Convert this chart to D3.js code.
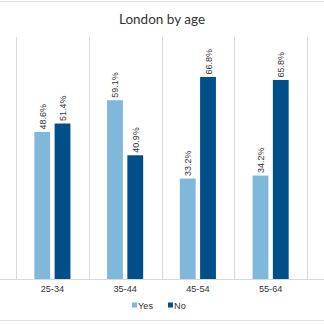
<!DOCTYPE html>
<html><head><meta charset="utf-8">
<script src="https://cdn.jsdelivr.net/npm/d3@7"></script>
<style>body{margin:0;background:#fff}svg{display:block}</style>
</head><body>
<svg id="c" width="324" height="324"></svg>
<script>
const title = "London by age";
const categories = ["25-34", "35-44", "45-54", "55-64"];
const seriesNames = ["Yes", "No"];
const yesValues = [48.6, 59.1, 33.2, 34.2];
const noValues = [51.4, 40.9, 66.8, 65.8];
const colors = ["#7fb8da", "#004e8a"];

const svg = d3.select("#c");
const W = 324, H = 324;
const plot = {left: 16, right: 307, top: 37, bottom: 279};
const FONT = "'Liberation Sans', Arial, sans-serif";

svg.append("line").attr("x1",0).attr("x2",W).attr("y1",1.5).attr("y2",1.5).attr("stroke","#e3e3e3");
svg.append("line").attr("x1",0).attr("x2",W).attr("y1",320.5).attr("y2",320.5).attr("stroke","#e3e3e3");

svg.append("text").attr("x",162).attr("y",24).attr("text-anchor","middle")
  .attr("font-family","Lato, 'Open Sans', sans-serif").attr("font-size",13.5).attr("fill","#333").text(title);

const x0 = d3.scaleBand().domain(categories).range([plot.left, plot.right]).padding(0);
const bw = x0.bandwidth();
const x1 = d3.scaleBand().domain(seriesNames).range([bw*0.252, bw*0.748]).paddingInner(0.22);
const y = d3.scaleLinear().domain([0, 80]).range([plot.bottom, plot.top]);

const seps = categories.map(c => x0(c)).concat([plot.right]);
svg.selectAll("line.sep").data(seps).enter().append("line")
  .attr("x1", d => Math.round(d)+0.5).attr("x2", d => Math.round(d)+0.5)
  .attr("y1", plot.top).attr("y2", plot.bottom).attr("stroke","#d9d9d9");

const data = categories.map((c,i) => ({cat:c, vals:[{s:"Yes", v:yesValues[i]},{s:"No", v:noValues[i]}]}));
const g = svg.selectAll("g.grp").data(data).enter().append("g").attr("transform", d => `translate(${x0(d.cat)},0)`);
g.selectAll("rect").data(d => d.vals).enter().append("rect")
  .attr("x", d => x1(d.s)).attr("width", x1.bandwidth())
  .attr("y", d => y(d.v)).attr("height", d => y(0) - y(d.v))
  .attr("fill", (d,i) => colors[i]);
g.selectAll("text").data(d => d.vals).enter().append("text")
  .attr("transform", d => `translate(${x1(d.s) + x1.bandwidth()/2 + 3.5},${y(d.v) - 2.5}) rotate(-90)`)
  .attr("font-family",FONT).attr("font-size",9).attr("fill","#333")
  .text(d => d.v.toFixed(1) + "%");

const xAxis = d3.axisBottom(x0).tickSize(0).tickPadding(6);
const ax = svg.append("g").attr("transform", `translate(0,${plot.bottom})`).call(xAxis);
ax.select(".domain").attr("stroke","#d9d9d9").attr("d", `M0,0.5H${W}`);
ax.selectAll("text").attr("font-family",FONT).attr("font-size",9.2).attr("fill","#333");

const legX = [132, 168];
const lg = svg.selectAll("g.leg").data(seriesNames).enter().append("g").attr("transform",(d,i)=>`translate(${legX[i]},301)`);
lg.append("rect").attr("width",5).attr("height",5).attr("y",1.5).attr("fill",(d,i)=>colors[i]);
lg.append("text").attr("x",6).attr("y",8).attr("font-family",FONT).attr("font-size",9.2).attr("fill","#333").text(d=>d);
</script>
</body></html>
